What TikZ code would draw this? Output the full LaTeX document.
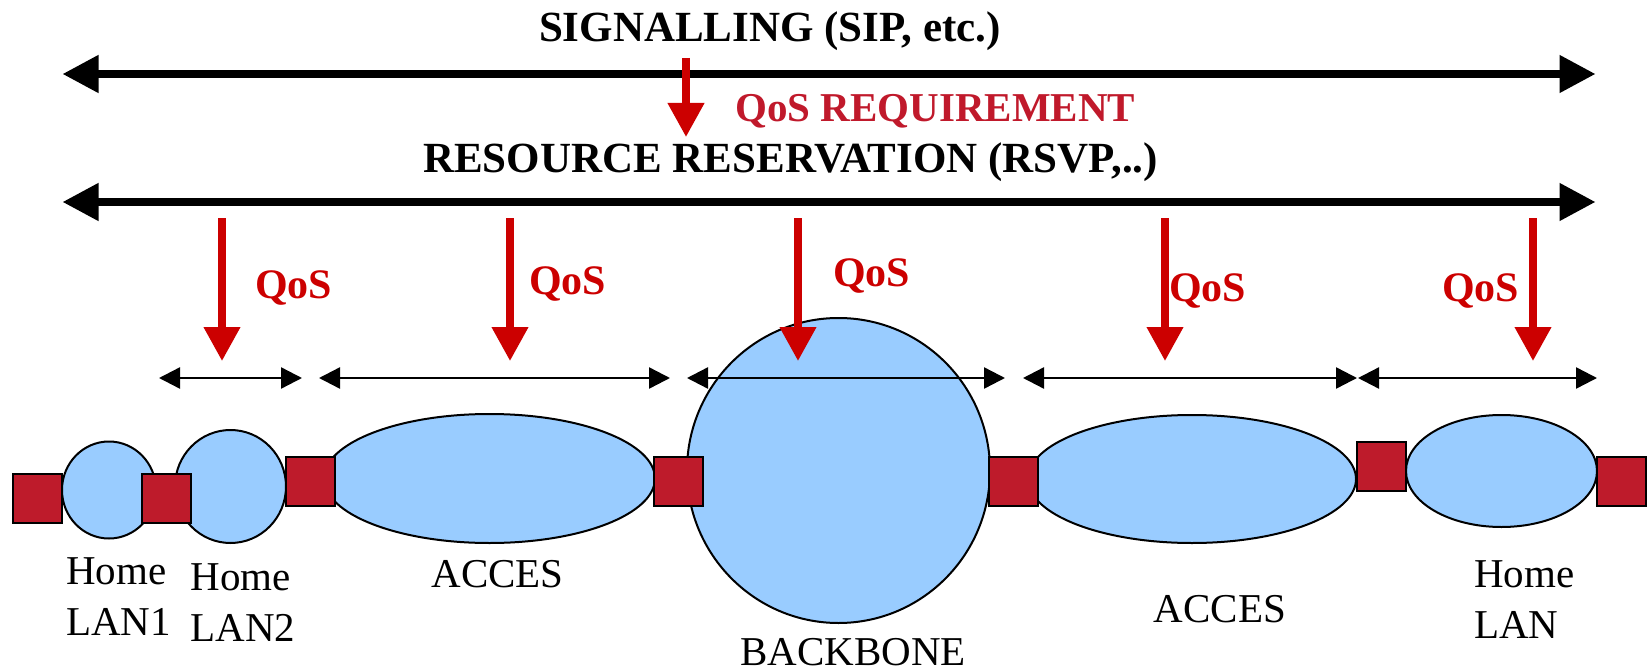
\documentclass[tikz,border=0pt]{standalone}
\usepackage{fontspec}
\setmainfont{Liberation Serif}
\usetikzlibrary{arrows.meta,shapes.geometric}

\definecolor{netblue}{HTML}{99CCFF}
\definecolor{gwred}{HTML}{BE1B2B}
\definecolor{qosred}{HTML}{CC0000}
\definecolor{reqred}{HTML}{C0192B}

\tikzset{
  net/.style={ellipse, draw=black, line width=2pt, fill=netblue, inner sep=0pt},
  gw/.style={rectangle, draw=black, line width=2pt, fill=gwred,
    minimum width=49pt, minimum height=49pt, inner sep=0pt},
  bus/.style={line width=7.7pt,
    {Triangle[length=36pt,width=36pt]}-{Triangle[length=36pt,width=36pt]}},
  span/.style={line width=2.4pt,
    {Triangle[length=21pt,width=21pt]}-{Triangle[length=21pt,width=21pt]}},
  qos/.style={draw=qosred, line width=7.3pt, -{Triangle[length=34pt,width=35pt]}},
  title/.style={font=\fontsize{43}{50}\selectfont\bfseries, inner sep=0pt},
  qlabel/.style={font=\fontsize{42}{50}\selectfont\bfseries, text=qosred, inner sep=0pt, anchor=base west},
  lbl/.style={font=\fontsize{41}{51}\selectfont, inner sep=0pt}
}

\begin{document}
\begin{tikzpicture}[x=1pt, y=-1pt]
\useasboundingbox (0,0) rectangle (1651,671);

% networks
\node[net, minimum width=94pt,  minimum height=97pt]  (lan1) at (109,490) {};
\node[net, minimum width=111pt, minimum height=113pt] (lan2) at (230.5,486.5) {};
\node[net, minimum width=331pt, minimum height=129pt] (acc1) at (489.5,478.5) {};
\node[net, minimum width=303pt, minimum height=305pt] (bb)   at (838.5,470.5) {};
\node[net, minimum width=328pt, minimum height=128pt] (acc2) at (1192,479) {};
\node[net, minimum width=191pt, minimum height=112pt] (lan3) at (1501.5,471) {};

% gateways
\node[gw] (g1) at (37.5,498.5) {};
\node[gw] (g2) at (166,498.5) {};
\node[gw] (g3) at (310.5,481.5) {};
\node[gw] (g4) at (678,481.5) {};
\node[gw] (g5) at (1013.5,481.5) {};
\node[gw] (g6) at (1381,466) {};
\node[gw] (g7) at (1621.5,481.5) {};

% network names
\node[lbl, anchor=north west, align=left] (tlan1) at (66,557) {Home\\LAN1};
\node[lbl, anchor=north west, align=left] (tlan2) at (190.5,563) {Home\\LAN2};
\node[lbl, anchor=base] (tacc1) at (497.5,587) {ACCES};
\node[lbl, anchor=base] (tbb) at (853,665) {BACKBONE};
\node[lbl, anchor=base] (tacc2) at (1220,622) {ACCES};
\node[lbl, anchor=north west, align=left] (tlan3) at (1474,560) {Home\\LAN};

% end-to-end layers
\node[title, anchor=base] (sig) at (770,42) {SIGNALLING (SIP, etc.)};
\node[title, anchor=base] (rsv) at (790.5,172.5) {RESOURCE RESERVATION (RSVP,..)};
\node[font=\fontsize{41}{50}\selectfont\bfseries, text=reqred, inner sep=0pt, anchor=base west]
  (req) at (735,122) {QoS REQUIREMENT};

\coordinate (sigL) at (62.5,74);
\coordinate (sigR) at (1595.5,74);
\coordinate (rsvL) at (62.5,202);
\coordinate (rsvR) at (1595.5,202);
\draw[bus] (sigL) -- (sigR);
\draw[bus] (rsvL) -- (rsvR);

\coordinate (reqA) at (686,58);
\coordinate (reqB) at (686,137);
\draw[qos] (reqA) -- (reqB);

% per-domain QoS
\foreach \n/\x in {1/222, 2/510, 3/798, 4/1165, 5/1533} {
  \coordinate (qa\n) at (\x,218);
  \coordinate (qb\n) at (\x,361);
  \draw[qos] (qa\n) -- (qb\n);
}
\node[qlabel] (q1) at (255,298) {QoS};
\node[qlabel] (q2) at (529,294) {QoS};
\node[qlabel] (q3) at (833,286) {QoS};
\node[qlabel] (q4) at (1169,301) {QoS};
\node[qlabel] (q5) at (1442,301) {QoS};

% domain spans
\coordinate (s1a) at (159,378);  \coordinate (s1b) at (302,378);
\coordinate (s2a) at (319,378);  \coordinate (s2b) at (670,378);
\coordinate (s3a) at (687,378);  \coordinate (s3b) at (1005,378);
\coordinate (s4a) at (1023,378); \coordinate (s4b) at (1357,378);
\coordinate (s5a) at (1358,378); \coordinate (s5b) at (1597,378);
\draw[span] (s1a) -- (s1b);
\draw[span] (s2a) -- (s2b);
\draw[span] (s3a) -- (s3b);
\draw[span] (s4a) -- (s4b);
\draw[span] (s5a) -- (s5b);
\end{tikzpicture}
\end{document}
